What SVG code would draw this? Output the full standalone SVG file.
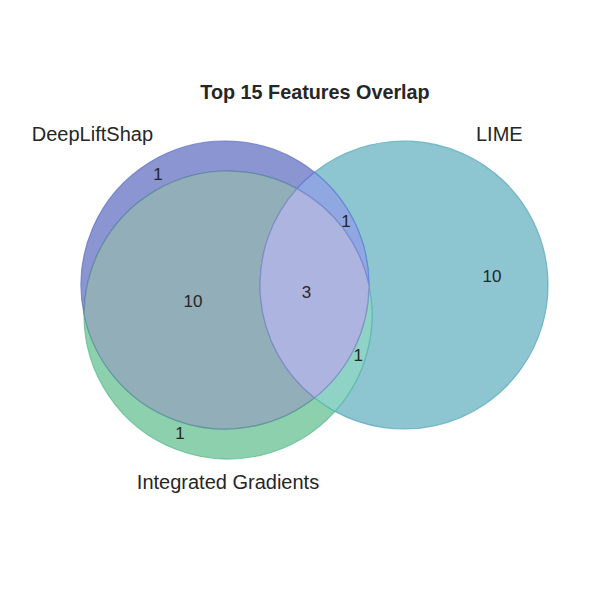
<svg xmlns="http://www.w3.org/2000/svg" width="600" height="600" viewBox="0 0 600 600">
<style>
  .title { font-family: "Liberation Sans", Arial, sans-serif; font-size: 19.8px; font-weight: bold; fill: #262626; }
  .setlabel { font-family: "Liberation Sans", Arial, sans-serif; font-size: 20px; fill: #262626; }
  .num { font-family: "Liberation Sans", Arial, sans-serif; font-size: 17px; fill: #262626; text-anchor: middle; }
  .region { stroke-width: 1.2; stroke-opacity: 0.75; stroke-linejoin: round; }
</style>
<rect x="0" y="0" width="600" height="600" fill="#ffffff"/>
<text class="title" x="315" y="99" text-anchor="middle">Top 15 Features Overlap</text>

<g id="regions">
  <path id="r-dls" class="region" fill="#8a95d1" stroke="#6070c4" d="M 84.01 314.25 A 144 144 0 0 1 314.5 172.2 A 144 144 0 0 0 297.01 188.62 A 144 144 0 0 0 84.01 314.25 Z"/>
  <path id="r-ig" class="region" fill="#8dd0ae" stroke="#58bb8c" d="M 84.01 314.25 A 144 144 0 0 0 334.99 411.38 A 144 144 0 0 1 314.5 397.8 A 144 144 0 0 1 84.01 314.25 Z"/>
  <path id="r-lime" class="region" fill="#8dc5d1" stroke="#58a9ba" d="M 314.5 172.2 A 144 144 0 1 1 334.99 411.38 A 144 144 0 0 0 368.99 285.75 A 144 144 0 0 0 314.5 172.2 Z"/>
  <path id="r-dls-ig" class="region" fill="#91aeb9" stroke="#5a8a9c" d="M 84.01 314.25 A 144 144 0 0 1 297.01 188.62 A 144 144 0 0 0 314.5 397.8 A 144 144 0 0 1 84.01 314.25 Z"/>
  <path id="r-dls-lime" class="region" fill="#90a8e2" stroke="#5a7cd6" d="M 314.5 172.2 A 144 144 0 0 1 368.99 285.75 A 144 144 0 0 0 297.01 188.62 A 144 144 0 0 1 314.5 172.2 Z"/>
  <path id="r-ig-lime" class="region" fill="#8fd3c7" stroke="#56b9aa" d="M 368.99 285.75 A 144 144 0 0 1 334.99 411.38 A 144 144 0 0 1 314.5 397.8 A 144 144 0 0 0 368.99 285.75 Z"/>
  <path id="r-all" class="region" fill="#aeb4e0" stroke="#7a84c8" d="M 297.01 188.62 A 144 144 0 0 1 368.99 285.75 A 144 144 0 0 1 314.5 397.8 A 144 144 0 0 1 297.01 188.62 Z"/>
</g>

<g id="set-labels">
  <text class="setlabel" x="153" y="141" text-anchor="end">DeepLiftShap</text>
  <text class="setlabel" x="476" y="141" text-anchor="start">LIME</text>
  <text class="setlabel" x="228" y="489" text-anchor="middle">Integrated Gradients</text>
</g>

<g id="counts">
  <text class="num" x="158" y="180">1</text>
  <text class="num" x="346" y="227.3">1</text>
  <text class="num" x="193" y="306.7">10</text>
  <text class="num" x="306.5" y="298.4">3</text>
  <text class="num" x="358.3" y="361">1</text>
  <text class="num" x="180" y="439">1</text>
  <text class="num" x="492" y="282.3">10</text>
</g>
</svg>
